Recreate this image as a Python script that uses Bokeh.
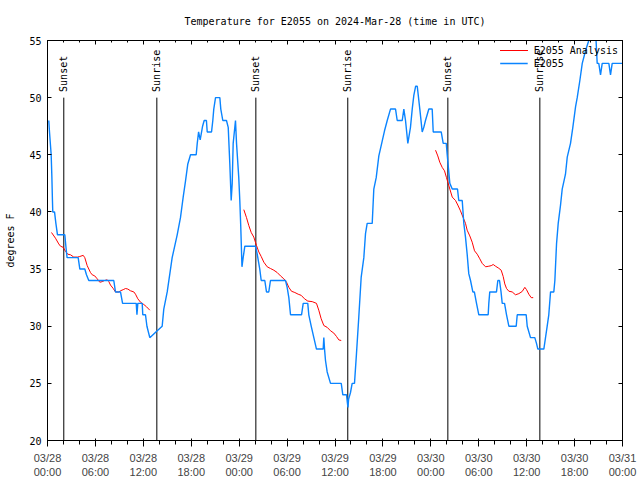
import math
from bokeh.plotting import figure
from bokeh.models import FixedTicker, LinearAxis, Range1d
from bokeh.embed import file_html
from bokeh.resources import INLINE
from bokeh.core.properties import value

FONT = "DejaVu Sans Mono"

title_text = "Temperature for E2055 on 2024-Mar-28 (time in UTC)"
y_label = "degrees F"
obs_name = "E2055"
ana_name = "E2055 Analysis"

# x axis: hours since 2024-03-28 00:00 UTC
x_min, x_max = 0, 72
y_min, y_max = 20, 55
tick_hours = [0, 6, 12, 18, 24, 30, 36, 42, 48, 54, 60, 66, 72]
minor_hours = list(range(0, 73, 2))
tick_labels = ["03/28\n00:00", "03/28\n06:00", "03/28\n12:00", "03/28\n18:00",
               "03/29\n00:00", "03/29\n06:00", "03/29\n12:00", "03/29\n18:00",
               "03/30\n00:00", "03/30\n06:00", "03/30\n12:00", "03/30\n18:00",
               "03/31\n00:00"]
y_ticks = [20, 25, 30, 35, 40, 45, 50, 55]

event_hours = [2.04, 13.69, 26.09, 37.60, 50.13, 61.65]
event_labels = ["Sunset", "Sunrise", "Sunset", "Sunrise", "Sunset", "Sunrise"]
event_top = 50
label_y = 50.5

obs_hours = [0.16, 0.25, 0.46, 0.55, 0.62, 0.66, 0.88, 1.05, 1.25, 2.17, 2.30, 2.45,
             3.84, 4.05, 4.67, 4.88, 5.17, 8.30, 8.51, 9.14, 9.40, 11.11, 11.20, 11.31,
             11.86, 11.93, 12.27, 12.45, 12.81, 13.74, 14.36, 14.56, 14.99, 15.61, 16.24,
             16.65, 16.99, 17.28, 17.57, 17.91, 18.62, 18.75, 18.92, 19.12, 19.42, 19.62,
             19.90, 20.00, 20.54, 20.70, 20.82, 21.04, 21.58, 21.70, 21.95, 22.41, 22.63,
             22.83, 23.00, 23.13, 23.25, 23.54, 23.67, 23.95, 24.08, 24.20, 24.35, 24.50,
             24.71, 26.05, 26.26, 26.58, 26.76, 27.21, 27.42, 27.71, 27.92, 29.80, 30.01,
             30.22, 30.43, 31.81, 32.02, 32.59, 32.72, 33.02, 33.35, 33.68, 34.52, 34.60,
             34.69, 34.81, 35.02, 35.44, 36.78, 36.98, 37.44, 37.55, 37.62, 37.70, 37.94,
             38.15, 38.44, 38.69, 38.98, 39.28, 39.61, 39.82, 40.03, 40.66, 40.86, 41.16,
             41.49, 41.91, 42.20, 42.54, 42.95, 43.58, 43.79, 44.42, 44.62, 44.83, 45.12,
             45.45, 45.67, 45.87, 46.10, 46.30, 46.62, 46.92, 47.12, 47.33, 47.75, 48.17,
             48.30, 49.30, 49.55, 49.93, 50.05, 50.38, 50.68, 51.34, 51.50, 51.93, 52.13,
             52.34, 52.55, 52.75, 52.97, 53.26, 53.45, 53.72, 54.01, 55.18, 55.26, 55.38,
             56.22, 56.39, 56.60, 56.79, 56.94, 57.23, 57.48, 57.77, 58.69, 58.82, 59.94,
             60.07, 60.48, 61.02, 61.23, 61.40, 62.15, 62.36, 62.57, 62.77, 62.99, 63.40,
             63.53, 63.74, 63.95, 64.24, 64.45, 64.86, 65.08, 65.49, 65.78, 66.12, 66.33,
             66.66, 66.96, 67.37, 67.78, 67.99, 68.62, 68.83, 69.03, 69.25, 69.46, 70.29,
             70.50, 70.71, 72.00]
obs_temp = [48, 47, 45, 43, 41, 40, 40, 39, 38, 38, 37, 36,
            36, 35, 35, 34.5, 34, 34, 33, 33, 32, 32, 31, 32,
            32, 31, 31, 30, 29, 29.6, 30, 31.5, 33, 36, 38,
            39.5, 41.3, 42.7, 44.2, 45, 45, 46, 47, 46.3, 47.5, 48,
            48, 47, 47, 48, 49, 50, 50, 49, 48, 48, 47.4,
            44.2, 41, 42.5, 46, 48, 46, 43, 41, 38.7, 35.2, 36,
            37, 37, 36.3, 35, 34, 34, 33, 33, 34, 34, 33.4,
            32.5, 31, 31, 32, 32, 31, 30, 29, 28, 28, 29,
            28, 27, 26, 25, 25, 24, 24, 23.3, 22.9, 23.6, 24.2,
            25, 25, 27.6, 30.8, 34.3, 36, 38.1, 39, 39, 42, 43,
            44.9, 46.2, 47.1, 48, 49, 49, 48, 48, 49, 48, 46,
            47.4, 49, 50.2, 51, 51, 49, 47, 47.4, 48, 49, 49,
            47, 47, 46, 46, 45, 42.5, 42, 42, 41, 41, 39,
            37.8, 36.3, 34.6, 34, 33, 33, 32, 31, 31, 32, 33,
            33, 34, 34, 33, 32, 32, 31, 30, 30, 31, 31,
            30, 29, 29, 28.5, 28, 28, 29, 30, 31, 33, 33,
            34, 37.2, 39, 40.6, 42, 43.3, 44.8, 46, 47.4, 49.2, 50,
            51.5, 53, 54.1, 55, 56, 56, 53, 53, 52, 53, 53,
            52, 53, 53]

ana1_hours = [0.50, 1.00, 1.41, 1.63, 1.97, 2.25, 2.54, 2.88, 3.29, 3.76, 4.04, 4.47,
              4.67, 4.97, 5.38, 5.60, 5.92, 6.22, 6.55, 6.85, 7.14, 7.48, 7.68, 7.89,
              8.23, 8.51, 8.93, 9.14, 9.48, 9.77, 10.06, 10.39, 10.81, 11.02, 11.31,
              11.65, 12.06, 12.40, 12.81]
ana1_temp = [38.2, 37.7, 37.2, 37.0, 36.9, 36.55, 36.3, 36.25, 36.05, 36.05, 36.1, 36.2,
             36.0, 35.3, 34.7, 34.5, 34.4, 34.15, 33.85, 33.9, 34.0, 34.06, 33.9, 33.6,
             33.3, 33.0, 33.0, 33.1, 33.2, 33.3, 33.25, 33.1, 33.0, 32.8, 32.4,
             32.1, 31.9, 31.7, 31.4]

ana2_hours = [24.58, 24.92, 25.21, 25.51, 25.83, 26.17, 26.46, 26.76, 27.09, 27.51, 27.92,
              28.34, 28.76, 29.18, 29.59, 29.93, 30.22, 30.55, 30.97, 31.39, 31.77, 32.18,
              32.59, 33.15, 33.68, 33.97, 34.27, 34.60, 35.02, 35.44, 35.85, 36.19, 36.48,
              36.78]
ana2_temp = [40.2, 39.5, 38.8, 38.2, 37.8, 37.06, 36.5, 36.1, 35.6, 35.2, 35.05,
             34.9, 34.7, 34.4, 34.15, 33.85, 33.4, 33.06, 32.95, 32.8, 32.7, 32.4,
             32.2, 32.15, 32.0, 31.4, 30.65, 30.06, 29.9, 29.6, 29.4, 29.1, 28.8,
             28.75]

ana3_hours = [48.59, 48.87, 49.12, 49.42, 49.71, 49.96, 50.13, 50.38, 50.68, 51.09, 51.38,
              51.71, 52.05, 52.34, 52.55, 52.88, 53.18, 53.47, 53.81, 54.13, 54.43, 54.85,
              55.26, 55.56, 55.81, 56.10, 56.51, 56.81, 57.06, 57.26, 57.48, 57.77, 58.19,
              58.60, 59.02, 59.44, 59.77, 59.98, 60.27, 60.57, 60.82]
ana3_temp = [45.4, 44.9, 44.35, 43.9, 43.6, 43.0, 42.6, 42.0, 41.3, 41.0, 40.6,
             40.1, 39.5, 39.0, 38.4, 37.9, 37.35, 36.6, 36.3, 35.9, 35.5, 35.2,
             35.25, 35.3, 35.4, 35.25, 35.07, 34.9, 34.35, 33.7, 33.3, 33.06, 33.0,
             32.75, 32.85, 33.04, 33.4, 33.2, 32.8, 32.5, 32.5]

p = figure(width=640, height=480, x_range=Range1d(x_min, x_max), y_range=Range1d(y_min, y_max),
           output_backend="svg", toolbar_location=None,
           min_border_left=47, min_border_right=18, min_border_top=40, min_border_bottom=40)

p.background_fill_color = "white"
p.border_fill_color = "white"
p.outline_line_color = "black"
p.outline_line_width = 1
p.grid.visible = False

p.title.text = title_text
p.title.align = "center"
p.title.text_font = FONT
p.title.text_font_size = "10px"
p.title.text_font_style = "normal"
p.title.text_color = "black"
p.title.standoff = 27

xticker = FixedTicker(ticks=tick_hours, minor_ticks=minor_hours)
yticker = FixedTicker(ticks=y_ticks, minor_ticks=[])
overrides = {h: lab for h, lab in zip(tick_hours, tick_labels)}

p.xaxis.ticker = xticker
p.xaxis.major_label_overrides = overrides
p.yaxis.ticker = yticker
p.yaxis.axis_label = y_label

top_axis = LinearAxis(ticker=xticker)
right_axis = LinearAxis(ticker=yticker)
p.add_layout(top_axis, "above")
p.add_layout(right_axis, "right")

for ax in [p.xaxis[0], p.yaxis[0], top_axis, right_axis]:
    ax.axis_line_color = "black"
    ax.major_tick_line_color = "black"
    ax.minor_tick_line_color = "black"
    ax.major_tick_in = 4
    ax.major_tick_out = 0
    ax.minor_tick_in = 2
    ax.minor_tick_out = 0
    ax.major_label_text_font = FONT
    ax.major_label_text_font_size = "10px"
    ax.major_label_text_color = "black"
    ax.axis_label_text_font = FONT
    ax.axis_label_text_font_size = "10px"
    ax.axis_label_text_font_style = "normal"
    ax.axis_label_text_color = "black"

# mirrored tick marks only: labels not drawn
for ax in [top_axis, right_axis]:
    ax.major_label_text_font_size = "1px"
    ax.major_label_text_color = None
    ax.major_label_standoff = 0

p.xaxis[0].major_label_standoff = 6
p.xaxis[0].major_label_text_line_height = 0.85
p.yaxis[0].major_label_standoff = 6
p.yaxis[0].axis_label_standoff = 10

# sunrise / sunset markers
p.segment(x0=event_hours, y0=[y_min] * len(event_hours), x1=event_hours,
          y1=[event_top] * len(event_hours), line_color="black", line_width=1)
p.text(x=event_hours, y=[label_y] * len(event_hours), text=event_labels,
       angle=math.pi / 2, text_align="left", text_baseline="middle",
       text_font=value(FONT), text_font_size="10px", text_color="black")

for hrs, tmp in [(ana1_hours, ana1_temp), (ana2_hours, ana2_temp), (ana3_hours, ana3_temp)]:
    p.line(hrs, tmp, line_color="red", line_width=1, legend_label=ana_name)
p.line(obs_hours, obs_temp, line_color="#0a84ff", line_width=1.4, legend_label=obs_name)

lg = p.legend[0]
lg.location = "top_right"
lg.margin = 4
lg.padding = 0
lg.spacing = 1
lg.label_height = 12
lg.glyph_height = 12
lg.glyph_width = 28
lg.label_standoff = 6
lg.label_text_font = FONT
lg.label_text_font_size = "10px"
lg.label_text_color = "black"
lg.background_fill_alpha = 0
lg.border_line_alpha = 0

open("out.html", "w").write(file_html(p, INLINE))
